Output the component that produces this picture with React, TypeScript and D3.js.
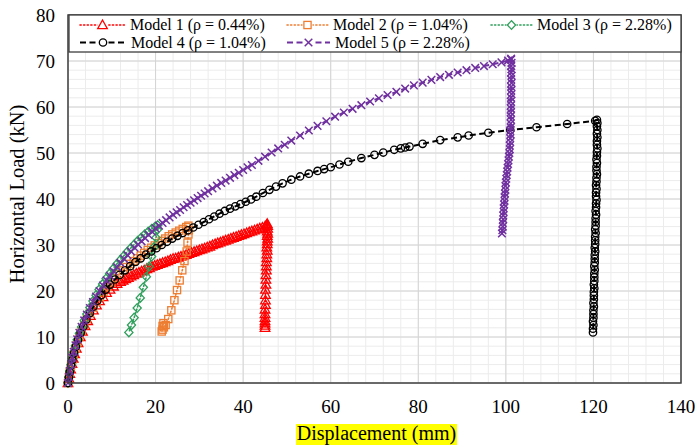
import React from "react";
import * as d3 from "d3";

// ---------- DATA (displacement mm, load kN) ----------
const xTicks = [0, 20, 40, 60, 80, 100, 120, 140];
const yTicks = [0, 10, 20, 30, 40, 50, 60, 70, 80];

const seriesNames = [
  "Model 1 (ρ = 0.44%)",
  "Model 2 (ρ = 1.04%)",
  "Model 3 (ρ = 2.28%)",
  "Model 4 (ρ = 1.04%)",
  "Model 5 (ρ = 2.28%)",
];

const model1: [number, number][] = [
  [0, 0], [0.2, 1], [0.4, 2], [0.6, 3], [0.9, 4.2], [1.2, 5.3], [1.5, 6.3], [1.9, 7.5], [2.3, 8.7], [2.8, 10],
  [3.3, 11.2], [3.9, 12.4], [4.5, 13.5], [5.1, 14.6], [5.8, 15.8], [6.5, 16.9], [7.2, 17.8], [8, 18.7], [8.8, 19.6],
  [9.6, 20.3], [10.4, 21], [11.2, 21.6], [12, 22], [12.6, 22.3], [13.2, 22.6], [13.8, 22.9], [14.4, 23.2], [15, 23.5],
  [15.6, 23.8], [16.2, 24], [16.8, 24.3], [17.4, 24.5], [18, 24.8], [18.6, 25], [19.2, 25.3], [19.8, 25.5], [20.4, 25.7],
  [21, 25.9], [21.6, 26.1], [22.2, 26.3], [22.8, 26.5], [23.4, 26.8], [24, 27], [24.6, 27.1], [25.2, 27.3], [25.8, 27.5],
  [26.4, 27.7], [27, 27.9], [27.6, 28.1], [28.2, 28.3], [28.8, 28.5], [29.4, 28.7], [30, 28.9], [30.6, 29.1], [31.2, 29.3],
  [31.8, 29.5], [32.4, 29.7], [33, 30], [33.6, 30.2], [34.2, 30.4], [34.8, 30.6], [35.4, 30.8], [36, 31], [36.6, 31.2],
  [37.2, 31.4], [37.8, 31.6], [38.4, 31.8], [39, 32], [39.6, 32.2], [40.2, 32.4], [40.8, 32.6], [41.4, 32.8], [42, 33],
  [42.6, 33.2], [43.2, 33.4], [43.8, 33.6], [44.4, 33.8], [45, 34], [45.3, 34.3], [45.5, 34.6],
  [45.6, 34.2], [45.6, 33.6], [45.5, 33], [45.6, 32.5], [45.5, 32], [45.6, 31.4], [45.5, 30.8], [45.5, 30.2], [45.4, 29.5],
  [45.5, 28.8], [45.4, 28], [45.4, 27.2], [45.3, 26.3], [45.3, 25.4], [45.3, 24.5], [45.2, 23.5], [45.2, 22.5], [45.2, 21.4],
  [45.1, 20.3], [45.1, 19.2], [45.1, 18], [45.1, 17], [45, 16], [45, 15], [45, 14.2], [45, 13.5], [45, 13], [45, 12.5], [45, 12],
];

const model2: [number, number][] = [
  [0, 0], [0.2, 1.2], [0.4, 2.4], [0.7, 3.8], [1, 5], [1.3, 6.2], [1.7, 7.5], [2.1, 8.7], [2.6, 10], [3.1, 11.3],
  [3.7, 12.6], [4.3, 13.9], [5, 15.2], [5.7, 16.4], [6.5, 17.6], [7.3, 18.7], [8.1, 19.8], [9, 20.9], [9.9, 21.9],
  [10.8, 22.8], [11.7, 23.7], [12.6, 24.5], [13.4, 25.2], [14.2, 25.9], [15, 26.5], [15.8, 27.1], [16.6, 27.7],
  [17.4, 28.3], [18.2, 28.9], [19, 29.4], [19.8, 29.9], [20.6, 30.4], [21.4, 30.9], [22.2, 31.4], [23, 31.9],
  [23.8, 32.3], [24.6, 32.7], [25.4, 33.1], [26.2, 33.5], [27, 33.9], [27.5, 34.2],
  [27.6, 33.2], [27.5, 32.3], [27.3, 30.5], [27.1, 28.6], [26.6, 26.5], [26.1, 24.5], [25.5, 22.3], [24.9, 20.2],
  [24.3, 18], [23.6, 15.8], [22.9, 13.9], [22.3, 12.6], [21.9, 12.1], [21.6, 11.6], [21.4, 11.2], [21.6, 12.4], [21.8, 13],
];

const model3: [number, number][] = [
  [0, 0], [0.2, 1.3], [0.4, 2.6], [0.7, 4], [1, 5.4], [1.3, 6.7], [1.7, 8.1], [2.1, 9.4], [2.6, 10.8], [3.1, 12.2],
  [3.7, 13.6], [4.3, 15], [5, 16.4], [5.7, 17.8], [6.4, 19.1], [7.1, 20.3], [7.9, 21.5], [8.7, 22.7], [9.5, 23.8],
  [10.3, 24.8], [11.1, 25.8], [11.9, 26.7], [12.7, 27.6], [13.5, 28.5], [14.3, 29.3], [15.1, 30.1], [15.9, 30.9],
  [16.7, 31.6], [17.5, 32.3], [18.3, 32.9], [19.1, 33.5], [19.9, 34], [20.5, 34.3],
  [20.4, 33.3], [20.1, 31.6], [19.6, 29.5], [19.1, 27.5], [18.5, 25.3], [17.9, 23.1], [17.2, 20.8], [16.5, 18.5],
  [15.8, 16.3], [15.1, 14.2], [14.5, 12.6], [13.9, 11],
];

const model4: [number, number][] = [
  [0, 0], [0.2, 1.2], [0.4, 2.4], [0.7, 3.8], [1, 5], [1.4, 6.5], [1.8, 7.9], [2.3, 9.4], [2.9, 10.9], [3.5, 12.3],
  [4.2, 13.8], [5, 15.2], [5.8, 16.6], [6.7, 17.9], [7.6, 19.1], [8.6, 20.3], [9.6, 21.4], [10.7, 22.5], [11.8, 23.5],
  [13, 24.5], [14.2, 25.4], [15.4, 26.3], [16.6, 27.1], [17.8, 27.9], [19, 28.6], [20.2, 29.3], [21.4, 30], [22.6, 30.7],
  [23.8, 31.4], [25, 32], [26.2, 32.6], [27.4, 33.2], [28.6, 33.8], [29.8, 34.4], [31, 35], [32.2, 35.6], [33.4, 36.2],
  [34.6, 36.8], [35.8, 37.4], [37, 37.9], [38.2, 38.4], [39.4, 38.9], [40.6, 39.4], [41.8, 39.9], [43, 40.5],
  [44.5, 41.3], [46, 42], [47.5, 42.7], [49, 43.4], [51, 44.2], [53, 44.9], [55, 45.5], [57, 46.1], [58.5, 46.5],
  [60, 46.9], [62, 47.5], [64, 48.1], [67, 48.9], [70, 49.6], [72, 50.1], [74.5, 50.7], [76, 51], [77, 51.2],
  [78, 51.4], [81, 52], [85, 52.8], [89, 53.4], [91.5, 53.8], [96, 54.4], [101, 55], [107, 55.6], [114, 56.3], [120.4, 57],
  [120.8, 57.2], [120.9, 56.5], [120.8, 55.8], [120.9, 55], [120.8, 54.2], [120.9, 53.4], [120.8, 52.6], [120.8, 51.8],
  [120.9, 51], [120.8, 50.2], [120.8, 49.4], [120.7, 48.6], [120.8, 47.8], [120.7, 47], [120.7, 46.2], [120.8, 45.4],
  [120.7, 44.6], [120.7, 43.8], [120.6, 43], [120.7, 42.2], [120.6, 41.4], [120.6, 40.6], [120.7, 39.8], [120.6, 39],
  [120.6, 38.2], [120.5, 37.4], [120.6, 36.6], [120.5, 35.8], [120.5, 35], [120.5, 34.2], [120.4, 33.4], [120.5, 32.6],
  [120.4, 31.8], [120.4, 31], [120.4, 30.2], [120.3, 29.4], [120.4, 28.6], [120.3, 27.8], [120.3, 27], [120.3, 26.2],
  [120.2, 25.4], [120.3, 24.6], [120.2, 23.8], [120.2, 23], [120.2, 22.2], [120.1, 21.4], [120.2, 20.6], [120.1, 19.8],
  [120.1, 19], [120.1, 18.2], [120, 17.4], [120.1, 16.6], [120, 15.8], [120, 15], [120, 14.2], [119.9, 13.4],
  [120, 12.6], [119.9, 11.8], [119.9, 11],
];

const model5: [number, number][] = [
  [0, 0], [0.2, 1.3], [0.4, 2.6], [0.7, 4.1], [1, 5.5], [1.3, 6.8], [1.7, 8.2], [2.1, 9.5], [2.6, 10.9], [3.1, 12.2],
  [3.7, 13.6], [4.3, 14.9], [5, 16.3], [5.7, 17.6], [6.4, 18.8], [7.2, 20], [8, 21.2], [8.8, 22.3], [9.6, 23.3],
  [10.4, 24.3], [11.2, 25.2], [12, 26.1], [12.8, 27], [13.6, 27.8], [14.4, 28.6], [15.2, 29.4], [16, 30.1], [16.8, 30.8],
  [17.6, 31.5], [18.4, 32.2], [19.2, 32.9], [20, 33.6], [20.8, 34.2], [21.6, 34.8], [22.4, 35.4], [23.2, 36], [24, 36.6],
  [24.8, 37.1], [25.6, 37.6], [26.4, 38.2], [27.2, 38.7], [28, 39.2], [28.8, 39.7], [29.6, 40.2], [30.4, 40.7],
  [31.2, 41.2], [32, 41.7], [33, 42.3], [34, 42.9], [35, 43.5], [36, 44], [37, 44.6], [38, 45.2], [39, 45.7], [40, 46.3],
  [41, 46.9], [42, 47.4], [43.5, 48.3], [45, 49.2], [46.5, 50.1], [48, 51], [49.5, 51.8], [51, 52.7], [53, 53.8],
  [55, 54.9], [57, 55.9], [59, 56.9], [61, 57.9], [63, 58.8], [65, 59.6], [67, 60.4], [69, 61.2], [71, 61.9], [73, 62.6],
  [75, 63.3], [77, 64], [79, 64.7], [81, 65.3], [83, 65.9], [85, 66.5], [87, 67], [89, 67.5], [91, 68], [93, 68.5],
  [95, 68.9], [97, 69.3], [99, 69.7], [100.5, 70.1], [101.2, 70.5],
  [101.2, 70.3], [101.3, 69.6], [101.2, 68.9], [101.3, 68.2], [101.2, 67.5], [101.3, 66.8], [101.2, 66], [101.3, 65.2],
  [101.2, 64.4], [101.2, 63.6], [101.3, 62.8], [101.2, 62], [101.1, 61.2], [101.2, 60.4], [101.2, 59.6], [101.1, 58.8],
  [101.1, 58], [101.2, 57.2], [101.1, 56.4], [101.1, 55.6], [101, 54.8], [101.1, 54], [101, 53.2], [101, 52.4],
  [100.9, 51.6], [100.9, 50.8], [100.8, 50], [100.7, 49.2], [100.6, 48.4], [100.5, 47.6], [100.4, 46.8], [100.3, 46],
  [100.2, 45.2], [100.1, 44.4], [100, 43.6], [99.9, 42.8], [99.9, 42], [99.8, 41.2], [99.7, 40.4], [99.7, 39.6],
  [99.6, 38.8], [99.5, 38], [99.5, 37.2], [99.4, 36.4], [99.4, 35.6], [99.3, 34.8], [99.3, 34], [99.2, 33.2], [99.1, 32.5],
];

// ---------- STYLE ----------
const W = 695;
const H = 445;
const M = { left: 68, right: 681, top: 15, bottom: 383 };
const FONT = '"Liberation Serif"';

type Shape = "triangle" | "square" | "diamond" | "circle" | "x";
const styles: { color: string; dash: string; width: number; shape: Shape; cap: string }[] = [
  { color: "#FF0000", dash: "1.2,2.4", width: 1.6, shape: "triangle", cap: "round" },
  { color: "#ED7D31", dash: "1.2,2.4", width: 1.6, shape: "square", cap: "round" },
  { color: "#2E9E5B", dash: "1.2,2.4", width: 1.6, shape: "diamond", cap: "round" },
  { color: "#000000", dash: "6,3.5", width: 2, shape: "circle", cap: "butt" },
  { color: "#7030A0", dash: "6,3.5", width: 2, shape: "x", cap: "butt" },
];
const allSeries = [model1, model2, model3, model4, model5];

function Marker({ shape, x, y, color }: { shape: Shape; x: number; y: number; color: string }) {
  const common = { fill: "none", stroke: color, strokeWidth: 1.3 };
  switch (shape) {
    case "triangle":
      return <path d={`M${x},${y - 5}L${x + 4.8},${y + 3.6}L${x - 4.8},${y + 3.6}Z`} {...common} />;
    case "square":
      return <rect x={x - 3.6} y={y - 3.6} width={7.2} height={7.2} {...common} />;
    case "diamond":
      return <path d={`M${x},${y - 4.4}L${x + 4.1},${y}L${x},${y + 4.4}L${x - 4.1},${y}Z`} {...common} />;
    case "circle":
      return <circle cx={x} cy={y} r={3.7} {...common} />;
    case "x":
      return <path d={`M${x - 3.8},${y - 3.8}L${x + 3.8},${y + 3.8}M${x - 3.8},${y + 3.8}L${x + 3.8},${y - 3.8}`} fill="none" stroke={color} strokeWidth={1.5} />;
  }
  return null;
}

function T(props: { x: number; y: number; size: number; anchor?: string; transform?: string; children: React.ReactNode }) {
  return (
    <text
      x={props.x}
      y={props.y}
      transform={props.transform}
      textAnchor={props.anchor || "start"}
      fontSize={props.size}
      fill="#000"
      style={{ fontFamily: FONT }}
    >
      {props.children}
    </text>
  );
}

export default function App() {
  const x = d3.scaleLinear().domain([0, 140]).range([M.left, M.right]);
  const y = d3.scaleLinear().domain([0, 80]).range([M.bottom, M.top]);
  const line = d3
    .line<[number, number]>()
    .x((d) => x(d[0]))
    .y((d) => y(d[1]));

  const minorX = d3.range(0, 141, 4);
  const minorY = d3.range(0, 81, 2);

  const legendItems = [
    { i: 0, lx: 80, tx: 130, row: 0 },
    { i: 1, lx: 287, tx: 333, row: 0 },
    { i: 2, lx: 491, tx: 537, row: 0 },
    { i: 3, lx: 80, tx: 131, row: 1 },
    { i: 4, lx: 287, tx: 335, row: 1 },
  ];
  const rowY = [25, 42.5];

  return (
    <div style={{ position: "fixed", left: 0, top: 0, width: W, height: H, background: "#fff" }}>
      <svg width={W} height={H} style={{ display: "block" }}>
        <rect width={W} height={H} fill="#fff" />
        {minorX.map((v) => (
          <line key={"mx" + v} x1={x(v)} x2={x(v)} y1={M.top} y2={M.bottom} stroke="#ececec" strokeWidth={1} />
        ))}
        {minorY.map((v) => (
          <line key={"my" + v} x1={M.left} x2={M.right} y1={y(v)} y2={y(v)} stroke="#ececec" strokeWidth={1} />
        ))}
        {xTicks.map((v) => (
          <line key={"gx" + v} x1={x(v)} x2={x(v)} y1={M.top} y2={M.bottom} stroke="#d4d4d4" strokeWidth={1} />
        ))}
        {yTicks.map((v) => (
          <line key={"gy" + v} x1={M.left} x2={M.right} y1={y(v)} y2={y(v)} stroke="#d4d4d4" strokeWidth={1} />
        ))}

        {allSeries.map((s, i) => {
          const st = styles[i];
          return (
            <g key={"s" + i}>
              <path d={line(s) || ""} fill="none" stroke={st.color} strokeWidth={st.width} strokeDasharray={st.dash} strokeLinecap={st.cap as any} />
              {s.map((p, j) => (
                <Marker key={j} shape={st.shape} x={x(p[0])} y={y(p[1])} color={st.color} />
              ))}
            </g>
          );
        })}

        <rect x={M.left} y={M.top} width={M.right - M.left} height={M.bottom - M.top} fill="none" stroke="#404040" strokeWidth={1.5} />

        <rect x={M.left + 1} y={M.top} width={M.right - M.left - 1} height={37} fill="#fff" stroke="#404040" strokeWidth={1.3} />
        {legendItems.map((it) => {
          const st = styles[it.i];
          const yy = rowY[it.row];
          return (
            <g key={"lg" + it.i}>
              <line x1={it.lx} x2={it.tx - 5} y1={yy} y2={yy} stroke={st.color} strokeWidth={st.width} strokeDasharray={st.dash} strokeLinecap={st.cap as any} />
              <rect x={(it.lx + it.tx - 5) / 2 - 5} y={yy - 5} width={10} height={10} fill="#fff" />
              <Marker shape={st.shape} x={(it.lx + it.tx - 5) / 2} y={yy} color={st.color} />
              <T x={it.tx} y={yy + 5.3} size={16}>{seriesNames[it.i]}</T>
            </g>
          );
        })}

        {yTicks.map((v) => (
          <T key={"yt" + v} x={55} y={y(v) + 6.5} size={19} anchor="end">{v}</T>
        ))}
        {xTicks.map((v) => (
          <T key={"xt" + v} x={x(v)} y={413} size={19} anchor="middle">{v}</T>
        ))}

        <T x={0} y={0} size={20.5} anchor="middle" transform={`translate(24,194) rotate(-90)`}>Horizontal Load (kN)</T>
        <rect x={296} y={424} width={161} height={21} fill="#FFFF00" />
        <T x={376.5} y={440} size={20} anchor="middle">Displacement (mm)</T>
      </svg>
    </div>
  );
}
